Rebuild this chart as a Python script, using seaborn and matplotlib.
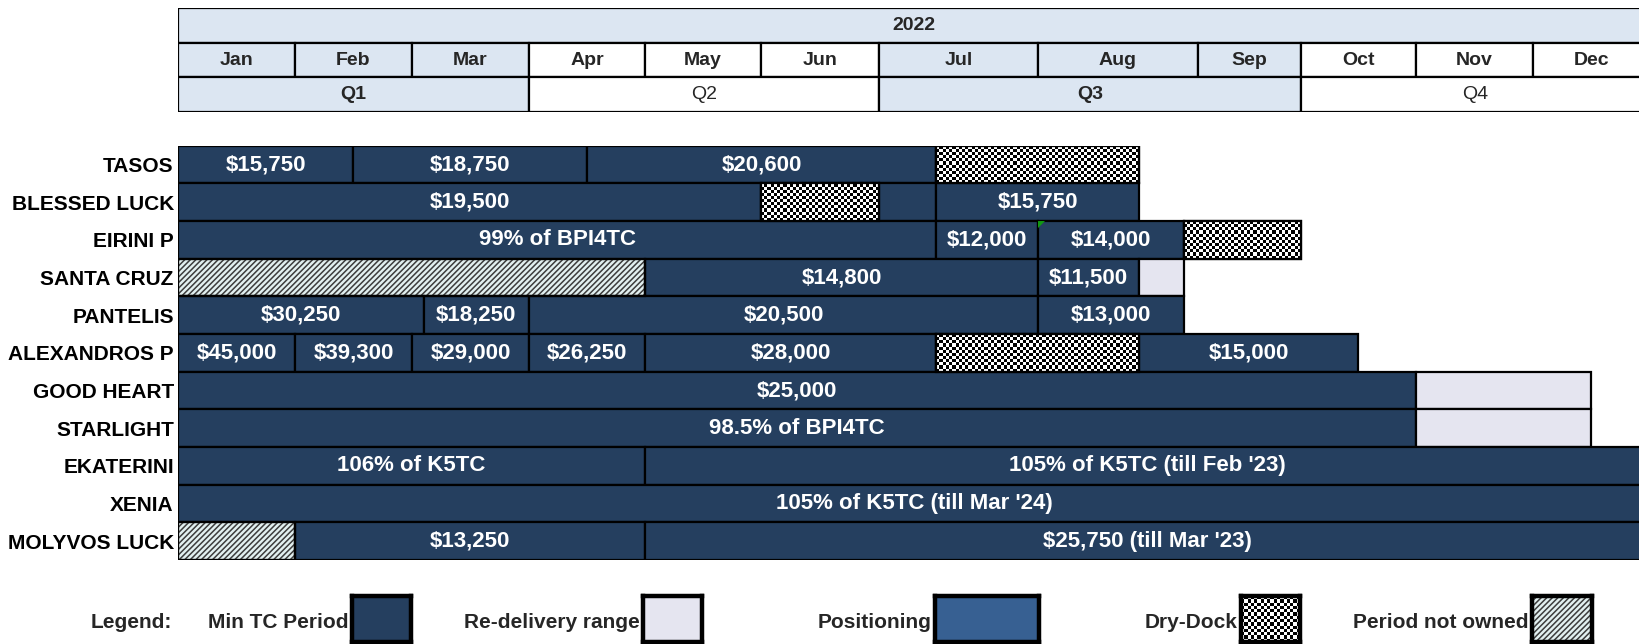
import numpy as np
import pandas as pd
import matplotlib
matplotlib.use("Agg")
import matplotlib.pyplot as plt
from matplotlib.patches import Rectangle, Polygon
from matplotlib.colors import ListedColormap
import seaborn as sns

# ---------------- data ----------------
vessels = ["TASOS", "BLESSED LUCK", "EIRINI P", "SANTA CRUZ", "PANTELIS",
           "ALEXANDROS P", "GOOD HEART", "STARLIGHT", "EKATERINI", "XENIA",
           "MOLYVOS LUCK"]
year_label = "2022"
months = ["Jan", "Feb", "Mar", "Apr", "May", "Jun",
          "Jul", "Aug", "Sep", "Oct", "Nov", "Dec"]
quarters = ["Q1", "Q2", "Q3", "Q4"]

# employment segments, time in months (0 = 1 Jan 2022, 12 = end of 2022)
seg_vessel = ["TASOS", "TASOS", "TASOS", "TASOS",
              "BLESSED LUCK", "BLESSED LUCK", "BLESSED LUCK", "BLESSED LUCK",
              "EIRINI P", "EIRINI P", "EIRINI P", "EIRINI P",
              "SANTA CRUZ", "SANTA CRUZ", "SANTA CRUZ", "SANTA CRUZ",
              "PANTELIS", "PANTELIS", "PANTELIS", "PANTELIS",
              "ALEXANDROS P", "ALEXANDROS P", "ALEXANDROS P", "ALEXANDROS P",
              "ALEXANDROS P", "ALEXANDROS P", "ALEXANDROS P",
              "GOOD HEART", "GOOD HEART",
              "STARLIGHT", "STARLIGHT",
              "EKATERINI", "EKATERINI",
              "XENIA",
              "MOLYVOS LUCK", "MOLYVOS LUCK", "MOLYVOS LUCK"]
seg_start = [0.0, 1.5, 3.5, 6.36,
             0.0, 5.0, 6.0, 6.36,
             0.0, 6.36, 7.0, 7.91,
             0.0, 4.0, 7.0, 7.63,
             0.0, 2.1, 3.0, 7.0,
             0.0, 1.0, 2.0, 3.0, 4.0, 6.36, 7.63,
             0.0, 10.0,
             0.0, 10.0,
             0.0, 4.0,
             0.0,
             0.0, 1.0, 4.0]
seg_end = [1.5, 3.5, 6.36, 7.63,
           5.0, 6.0, 6.36, 7.63,
           6.36, 7.0, 7.91, 9.0,
           4.0, 7.0, 7.63, 7.91,
           2.1, 3.0, 7.0, 7.91,
           1.0, 2.0, 3.0, 4.0, 6.36, 7.63, 9.5,
           10.0, 11.5,
           10.0, 11.5,
           4.0, 12.0,
           12.0,
           1.0, 4.0, 12.0]
seg_label = ["$15,750", "$18,750", "$20,600", "",
             "$19,500", "", "", "$15,750",
             "99% of BPI4TC", "$12,000", "$14,000", "",
             "", "$14,800", "$11,500", "",
             "$30,250", "$18,250", "$20,500", "$13,000",
             "$45,000", "$39,300", "$29,000", "$26,250", "$28,000", "", "$15,000",
             "$25,000", "",
             "98.5% of BPI4TC", "",
             "106% of K5TC", "105% of K5TC (till Feb '23)",
             "105% of K5TC (till Mar '24)",
             "", "$13,250", "$25,750 (till Mar '23)"]
seg_kind = ["tc", "tc", "tc", "dock",
            "tc", "dock", "tc", "tc",
            "tc", "tc", "tc", "dock",
            "notowned", "tc", "tc", "redel",
            "tc", "tc", "tc", "tc",
            "tc", "tc", "tc", "tc", "tc", "dock", "tc",
            "tc", "redel",
            "tc", "redel",
            "tc", "tc",
            "tc",
            "notowned", "tc", "tc"]

legend_labels = ["Min TC Period", "Re-delivery range", "Positioning",
                 "Dry-Dock", "Period not owned"]
legend_kinds = ["tc", "redel", "pos", "dock", "notowned"]

comment_vessel = "EIRINI P"
comment_month = 7.0

# ---------------- style ----------------
NAVY = "#253f5f"
REDEL = "#e5e5f0"
POS = "#376092"
LIGHT = "#dce6f2"
NOTOWN = "#e2f0f0"
HATCHC = "#3c3c3c"
HATCH = "//////"
face = {"tc": NAVY, "redel": REDEL, "pos": POS, "dock": "white", "notowned": NOTOWN}

sns.set_theme(style="white")
plt.rcParams["font.family"] = ["Liberation Sans", "DejaVu Sans"]
plt.rcParams["hatch.linewidth"] = 1.1

W, H = 1640, 644
# spreadsheet column widths of the months (px) -> non-uniform time axis
month_width_px = np.array([117, 117, 117, 116, 116, 118, 159, 160, 103, 115, 117, 117], float)
edges_m = np.arange(13, dtype=float)
edges_px = np.concatenate([[0.0], np.cumsum(month_width_px)])


def fwd(x):
    x = np.asarray(x, float)
    y = np.interp(x, edges_m, edges_px)
    y = np.where(x < 0, x * month_width_px[0], y)
    y = np.where(x > 12, edges_px[-1] + (x - 12) * month_width_px[-1], y)
    return y


def inv(p):
    p = np.asarray(p, float)
    x = np.interp(p, edges_px, edges_m)
    x = np.where(p < 0, p / month_width_px[0], x)
    x = np.where(p > edges_px[-1], 12 + (p - edges_px[-1]) / month_width_px[-1], x)
    return x


def mid(s, e):
    return float(inv((fwd(s) + fwd(e)) / 2))


def fig_rect(x0, y0, x1, y1):
    return [x0 / W, 1 - y1 / H, (x1 - x0) / W, (y1 - y0) / H]


fig = plt.figure(figsize=(W / 100, H / 100), dpi=100)
X0 = 178
ax = fig.add_axes(fig_rect(X0, 145.7, X0 + edges_px[-1], 560))
ax.set_xscale("function", functions=(fwd, inv))

checker_cmap = ListedColormap(["white", "black"])
ROW_PX = (560 - 145.7) / len(vessels)

# ---------------- gantt bars ----------------
for v, s, e, lab, k in zip(seg_vessel, seg_start, seg_end, seg_label, seg_kind):
    df = pd.DataFrame({"vessel": [v], "dur": [e - s]})
    kw = dict(edgecolor="black", linewidth=1.6, zorder=2)
    if k == "notowned":
        kw.update(edgecolor=HATCHC, hatch=HATCH)
    sns.barplot(data=df, x="dur", y="vessel", order=vessels, orient="y", ax=ax,
                color=face[k], saturation=1, width=1.0, errorbar=None,
                legend=False, left=s, **kw)
    row = vessels.index(v)
    if k == "notowned":
        ax.barh(row, e - s, left=s, height=1.0, fill=False,
                edgecolor="black", linewidth=1.6, zorder=4)
    if k == "dock":
        p0, p1 = float(fwd(s)), float(fwd(e))
        nx = max(2, int(round((p1 - p0) / 3.2)))
        ny = int(round(ROW_PX / 3.2))
        Xe = inv(np.linspace(p0, p1, nx + 1))
        Ye = np.linspace(row - 0.5, row + 0.5, ny + 1)
        C = np.add.outer(np.arange(ny), np.arange(nx)) % 2
        ax.pcolormesh(Xe, Ye, C, cmap=checker_cmap, vmin=0, vmax=1,
                      shading="flat", antialiased=False, zorder=3)
        ax.barh(row, e - s, left=s, height=1.0, fill=False,
                edgecolor="black", linewidth=1.6, zorder=4)
    if lab:
        ax.text(mid(s, e), row, lab, ha="center", va="center", color="white",
                fontsize=16, fontweight="bold", zorder=5)

# comment marker (small green triangle)
r = vessels.index(comment_vessel)
dx = float(inv(fwd(comment_month) + 7)) - comment_month
dy = 7 / ROW_PX
ax.add_patch(Polygon([(comment_month, r - 0.5), (comment_month + dx, r - 0.5),
                      (comment_month, r - 0.5 + dy)], closed=True,
                     facecolor="#119911", edgecolor="none", zorder=6))

ax.set_xlim(0, 12)
ax.set_ylim(len(vessels) - 0.5, -0.5)
ax.set_xlabel("")
ax.set_ylabel("")
ax.set_xticks([])
for sp in ax.spines.values():
    sp.set_visible(False)
ax.tick_params(axis="y", length=0, pad=3, labelsize=15, labelcolor="black")
for t in ax.get_yticklabels():
    t.set_fontweight("bold")
ax.grid(False)

# ---------------- header table ----------------
hax = fig.add_axes(fig_rect(X0, 8.3, X0 + edges_px[-1], 111.7))
hax.set_xscale("function", functions=(fwd, inv))
hax.barh(0, 12, left=0, height=1.0, color=LIGHT, edgecolor="black", linewidth=1.6)
hax.text(mid(0, 12), 0, year_label, ha="center", va="center",
         fontsize=14, fontweight="bold")
for i, m in enumerate(months):
    fc = LIGHT if (i // 3) % 2 == 0 else "white"
    hax.barh(1, 1, left=i, height=1.0, color=fc, edgecolor="black", linewidth=1.6)
    hax.text(mid(i, i + 1), 1, m, ha="center", va="center",
             fontsize=14, fontweight="bold")
for q, ql in enumerate(quarters):
    fc = LIGHT if q % 2 == 0 else "white"
    hax.barh(2, 3, left=3 * q, height=1.0, color=fc, edgecolor="black", linewidth=1.6)
    hax.text(mid(3 * q, 3 * q + 3), 2, ql, ha="center", va="center", fontsize=14,
             fontweight="bold" if q % 2 == 0 else "normal")
hax.set_xlim(0, 12)
hax.set_ylim(2.5, -0.5)
hax.set_xticks([])
hax.set_yticks([])
for sp in hax.spines.values():
    sp.set_visible(False)

# ---------------- legend ----------------
TEXT_Y = 1 - 622 / H
fig.text(172 / W, TEXT_Y, "Legend:", ha="right", va="center",
         fontsize=15, fontweight="bold")
box_px = [(352, 411), (643, 702), (935, 1039), (1241, 1300), (1532, 1592)]
for lab, k, (bx0, bx1) in zip(legend_labels, legend_kinds, box_px):
    fig.text((bx0 - 3) / W, TEXT_Y, lab, ha="right", va="center",
             fontsize=15, fontweight="bold")
    lax = fig.add_axes(fig_rect(bx0, 596, bx1, 642))
    lax.set_facecolor(face[k])
    lax.set_xticks([])
    lax.set_yticks([])
    for sp in lax.spines.values():
        sp.set_visible(True)
        sp.set_color("black")
        sp.set_linewidth(3.2)
    if k == "dock":
        nx = int(round((bx1 - bx0) / 3.2))
        ny = int(round(46 / 3.2))
        C = np.add.outer(np.arange(ny), np.arange(nx)) % 2
        lax.imshow(C, cmap=checker_cmap, vmin=0, vmax=1, interpolation="nearest",
                   aspect="auto", extent=(0, 1, 0, 1))
    if k == "notowned":
        lax.add_patch(Rectangle((0, 0), 1, 1, transform=lax.transAxes,
                                facecolor=NOTOWN, edgecolor=HATCHC, linewidth=0,
                                hatch=HATCH))

fig.savefig("out.png", dpi=100)
